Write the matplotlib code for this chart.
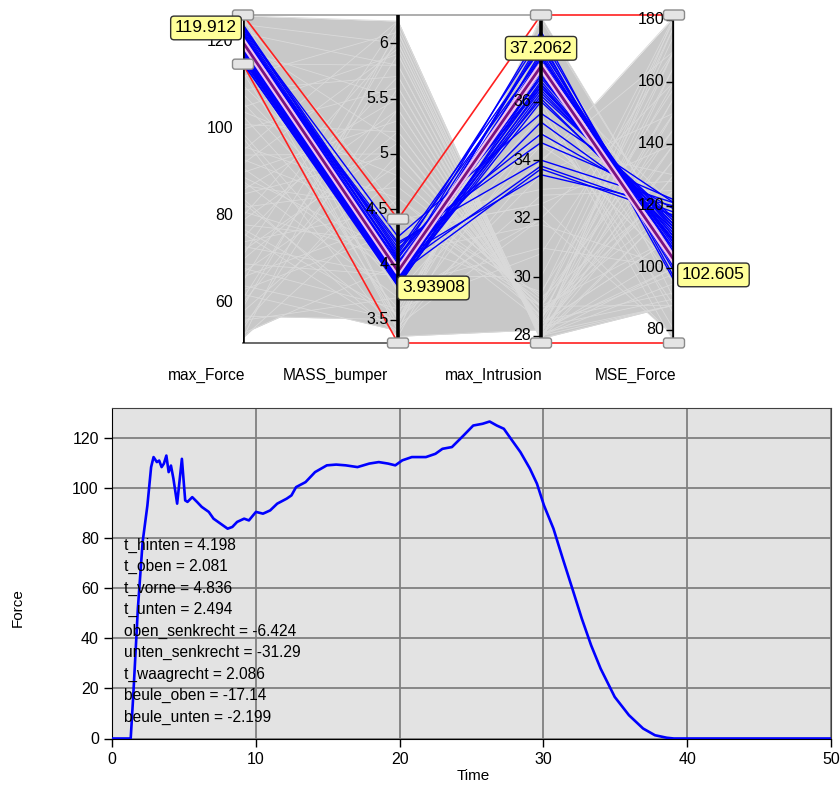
import numpy as np
import matplotlib.pyplot as plt
from matplotlib.patches import FancyBboxPatch
from matplotlib.transforms import ScaledTranslation
from matplotlib.markers import TICKLEFT

plt.rcParams['font.family'] = ['Liberation Sans', 'DejaVu Sans']

# parallel coordinates: axes, ranges, ticks
pc_names = ['max_Force', 'MASS_bumper', 'max_Intrusion', 'MSE_Force']
pc_lo = [50.8, 3.29, 27.75, 75.8]
pc_hi = [126.2, 6.255, 38.96, 181.6]
pc_ticks = [[60, 80, 100, 120],
            [3.5, 4, 4.5, 5, 5.5, 6],
            [28, 30, 32, 34, 36],
            [80, 100, 120, 140, 160, 180]]
brush_lo = [114.9, 3.29, 27.75, 75.8]
brush_hi = [126.2, 4.41, 38.96, 181.6]
sel_design = [119.912, 3.93908, 37.2062, 102.605]
sel_text = ['119.912', '3.93908', '37.2062', '102.605']

# all designs (grey)
bg_force = [126, 124, 122, 118, 112, 105, 100, 95, 90, 85, 80, 75, 70, 65, 60, 55, 52, 52,
            53, 57, 62, 68, 73, 78, 83, 88, 93, 98, 103, 108, 113, 117, 121, 125, 58, 63,
            67, 72, 77, 82, 86, 91, 96, 101, 106, 110, 115, 119, 123, 54, 59, 64, 69, 74,
            79, 84, 89, 94, 99, 104, 109, 114, 120, 126, 56, 61, 66, 71, 76, 81, 87, 92]
bg_mass = [6.2, 6.0, 5.8, 5.5, 6.1, 5.9, 5.6, 6.2, 5.3, 5.0, 6.0, 5.7, 5.2, 6.1, 5.4, 5.0, 6.15, 4.6,
           4.0, 3.5, 3.4, 3.6, 3.9, 4.2, 3.45, 3.7, 4.4, 3.35, 3.8, 4.1, 3.5, 3.45, 3.4, 4.5, 4.8, 4.3,
           4.9, 5.1, 3.55, 4.7, 5.5, 3.9, 4.6, 5.2, 4.0, 4.3, 5.8, 3.75, 3.5, 5.6, 6.05, 3.5, 3.9, 4.5,
           5.4, 3.35, 4.1, 5.0, 3.6, 4.8, 5.7, 4.2, 5.1, 3.5, 3.7, 5.9, 4.4, 6.2, 3.4, 4.05, 4.5, 5.95]
bg_intrusion = [27.9, 28.0, 28.1, 28.2, 27.9, 28.0, 28.3, 28.0, 28.4, 28.6, 28.0, 28.2, 28.5, 28.0, 28.4, 28.8, 28.1, 29.2,
                33.9, 35.0, 38.5, 37.0, 36.0, 34.5, 32.0, 32.0, 29.0, 28.2, 31.0, 33.5, 36.5, 38.8, 34.0, 29.0, 29.0, 32.5,
                29.0, 28.4, 37.8, 29.3, 28.3, 35.5, 28.7, 28.6, 37.0, 32.5, 28.0, 35.0, 38.0, 28.1, 27.9, 33.5, 30.0, 28.5,
                28.3, 36.8, 31.8, 28.8, 30.8, 29.0, 28.1, 29.5, 28.6, 32.8, 34.5, 28.0, 33.0, 27.8, 38.9, 35.8, 29.4, 27.9]
bg_mse = [88, 120, 170, 100, 150, 181, 90, 140, 110, 165, 88, 130, 175, 95, 155, 125, 105, 145,
          181, 100, 90, 115, 80, 130, 160, 78, 178, 135, 100, 120, 95, 110, 170, 150, 88, 140,
          170, 110, 105, 125, 98, 88, 160, 140, 120, 78, 130, 100, 108, 178, 120, 150, 181, 92,
          145, 85, 100, 120, 170, 110, 88, 158, 135, 125, 112, 100, 128, 165, 110, 76, 180, 155]

# selected designs (blue)
blue_force = [124.0, 123.5, 123.0, 122.6, 122.2, 121.8, 121.5, 121.0, 120.6, 120.3, 119.8, 119.4,
              119.0, 118.6, 118.2, 117.8, 117.4, 117.0, 116.6, 116.2, 115.8, 115.3, 123.2, 121.2,
              120.0, 118.8, 117.6, 116.4, 122.0, 119.6, 118.0, 116.0, 115.0, 120.8, 117.2, 123.8]
blue_mass = [4.12, 4.10, 4.05, 4.02, 4.00, 3.98, 4.08, 3.96, 3.95, 3.93, 3.92, 3.90,
             3.89, 3.88, 3.87, 3.86, 3.85, 3.84, 3.83, 3.82, 3.81, 3.80, 4.25, 4.15,
             4.18, 3.97, 4.04, 3.91, 3.99, 3.94, 3.89, 3.86, 3.84, 4.20, 3.83, 4.06]
blue_intrusion = [37.8, 37.5, 38.2, 37.0, 36.8, 37.3, 36.5, 37.9, 38.4, 36.9, 37.6, 36.4,
                  37.1, 36.6, 38.0, 36.3, 37.4, 36.7, 36.2, 37.7, 36.5, 36.9, 35.6, 34.9,
                  34.6, 33.8, 33.5, 33.7, 35.3, 36.1, 37.2, 38.1, 36.0, 34.0, 37.5, 36.6]
blue_mse = [105, 108, 101, 110, 112, 104, 114, 99, 97, 109, 103, 113,
            106, 111, 100, 115, 107, 110, 116, 102, 113, 108, 121, 119,
            122, 118, 120, 117, 116, 112, 104, 96, 114, 121, 106, 109]

# force over time of the selected design
time = [0, 1.3, 1.48, 1.8, 2.13, 2.46, 2.72, 2.89, 3.12, 3.28, 3.45, 3.61, 3.78, 3.94, 4.1,
        4.27, 4.53, 4.86, 5.09, 5.25, 5.58, 5.91, 6.24, 6.73, 7.06, 7.55, 8.04, 8.37, 8.7,
        9.19, 9.52, 10.01, 10.5, 11.0, 11.49, 12.15, 12.48, 12.8, 13.46, 14.12, 14.94, 15.59,
        16.25, 17.07, 17.89, 18.55, 19.2, 19.7, 20.19, 20.85, 21.83, 22.49, 22.98, 23.64,
        24.46, 25.12, 25.77, 26.26, 26.76, 27.25, 27.74, 28.4, 29.06, 29.55, 30.04, 30.7,
        31.35, 32.01, 32.67, 33.32, 33.98, 34.96, 35.95, 36.93, 37.76, 38.58, 39.07, 50]
force = [0, 0, 17.3, 52, 78.5, 93, 108.4, 112.4, 110.4, 111, 108.4, 109.8, 113, 106.4, 109,
         103.8, 93.8, 111.7, 95.1, 94.5, 96.4, 94.5, 92.5, 90.5, 87.8, 85.8, 83.8, 84.5, 86.5,
         87.8, 87.1, 90.5, 89.8, 91.1, 93.8, 95.8, 97.1, 100.4, 102.4, 106.4, 109.1, 109.4,
         109.1, 108.4, 109.8, 110.4, 109.8, 109.1, 111.1, 112.4, 112.4, 113.7, 115.7, 116.4,
         121.1, 125, 125.7, 126.6, 125, 123.7, 119.7, 114.4, 107.8, 101.8, 93.1, 83.8,
         71.8, 59.9, 47.9, 37.2, 27.9, 16.6, 9.3, 4, 1.3, 0.3, 0, 0]
params = ['t_hinten = 4.198', 't_oben = 2.081', 't_vorne = 4.836', 't_unten = 2.494',
          'oben_senkrecht = -6.424', 'unten_senkrecht = -31.29', 't_waagrecht = 2.086',
          'beule_oben = -17.14', 'beule_unten = -2.199']


def norm(values):
    return [(v - lo) / (hi - lo) for v, lo, hi in zip(values, pc_lo, pc_hi)]


fig = plt.figure(figsize=(8.4, 7.9), dpi=100)

# ---- parallel coordinates ----
# axis positions in pixels from the first axis
xs = [0, 155, 298, 431]
ax = fig.add_axes([243 / 840, 1 - 343 / 790, 431 / 840, 328 / 790])
ax.set_xlim(0, 431)
ax.set_ylim(0, 1)
ax.axis('off')

bg = np.array([norm(d) for d in zip(bg_force, bg_mass, bg_intrusion, bg_mse)])
blue = np.array([norm(d) for d in zip(blue_force, blue_mass, blue_intrusion, blue_mse)])

# grey band covered by all designs, segment by segment
for i in range(3):
    t = np.linspace(0, 1, 80)
    ys = bg[:, i:i + 1] + (bg[:, i + 1:i + 2] - bg[:, i:i + 1]) * t
    ax.fill_between(xs[i] + t * (xs[i + 1] - xs[i]), ys.min(axis=0), ys.max(axis=0),
                    color='#c8c8c8', lw=0, zorder=1)
for row in bg:
    ax.plot(xs, row, color='#dadada', lw=0.6, zorder=1.2)

ax.plot([xs[0], xs[2]], [1, 1], color='#a0a0a0', lw=1.2, zorder=2, clip_on=False)
ax.plot([xs[0], xs[1]], [0, 0], color='#505050', lw=1.2, zorder=2, clip_on=False)
ax.plot(xs, norm(brush_hi), color='#ff2020', lw=1.2, zorder=2.5, clip_on=False)
ax.plot(xs, norm(brush_lo), color='#ff2020', lw=1.2, zorder=2.5, clip_on=False)

for row in blue:
    ax.plot(xs, row, color='#0000ff', lw=1, zorder=3)

ax.plot(xs, norm(sel_design), color='#f0c4f0', lw=5, zorder=4)
ax.plot(xs, norm(sel_design), color='#7a1280', lw=2, zorder=4.5)

ax.vlines(xs, 0, 1, color='black', lw=2.6, zorder=5)
for i, x in enumerate(xs):
    for tk in pc_ticks[i]:
        y = (tk - pc_lo[i]) / (pc_hi[i] - pc_lo[i])
        ax.plot(x - 1.5, y, marker=TICKLEFT, ms=5, mew=1, color='black', zorder=5)
        ax.annotate('%g' % tk, (x, y), xytext=(-7, 0), textcoords='offset points',
                    ha='right', va='center', fontsize=11.5, zorder=5)

# brush handles
nlo, nhi = norm(brush_lo), norm(brush_hi)
for i, x in enumerate(xs):
    for y in (nlo[i], nhi[i]):
        tr = fig.dpi_scale_trans + ScaledTranslation(x, y, ax.transData)
        ax.add_patch(FancyBboxPatch((-0.105, -0.05), 0.21, 0.10,
                                    boxstyle='round,pad=0,rounding_size=0.025',
                                    fc='#e4e4e4', ec='#8a8a8a', lw=1,
                                    transform=tr, clip_on=False, zorder=8))

# value labels of the selected design
lab_dx = [-6, 4, 0, 8]
lab_dy = [14.4, -16.8, 18, -15]
lab_ha = ['right', 'left', 'center', 'left']
for i, (y, s) in enumerate(zip(norm(sel_design), sel_text)):
    ax.annotate(s, (xs[i], y), xytext=(lab_dx[i] * 0.72, lab_dy[i] * 0.72),
                textcoords='offset points', ha=lab_ha[i], va='center', fontsize=12.5,
                zorder=9, bbox=dict(boxstyle='round,pad=0.25,rounding_size=0.2',
                                    fc='#ffff99', ec='#303030', lw=1))

name_dx = [2, -10, 2, 2]
for i, name in enumerate(pc_names):
    ax.annotate(name, (xs[i], 0), xytext=(name_dx[i] * 0.72, -32 * 0.72),
                textcoords='offset points', ha='right', va='center', fontsize=11.2)

# ---- force curve ----
ax2 = fig.add_axes([112 / 840, 1 - 738.5 / 790, 719 / 840, 330.5 / 790])
ax2.set_facecolor('#e3e3e3')
ax2.plot(time, force, color='#0000ff', lw=1.9, zorder=3)
ax2.set_xlim(0, 50)
ax2.set_ylim(0, 132)
ax2.set_xticks(range(0, 51, 10))
ax2.set_yticks(range(0, 121, 20))
ax2.grid(True, color='#808080', lw=1.3)
ax2.set_axisbelow(True)
ax2.tick_params(labelsize=11.5, length=6, width=1)
for s in ['top', 'right']:
    ax2.spines[s].set_color('#404040')
fig.text(473 / 840, 1 - 776 / 790, 'Time', ha='center', va='center', fontsize=11)
fig.text(18 / 840, 1 - 608 / 790, 'Force', ha='center', va='center', fontsize=11, rotation=90)
for k, line in enumerate(params):
    ax2.text(12 / 719, (738.5 - 545 - 21.5 * k) / 330.5, line, transform=ax2.transAxes,
             ha='left', va='center', fontsize=11.2, zorder=4)

fig.savefig('out.png', dpi=100)
